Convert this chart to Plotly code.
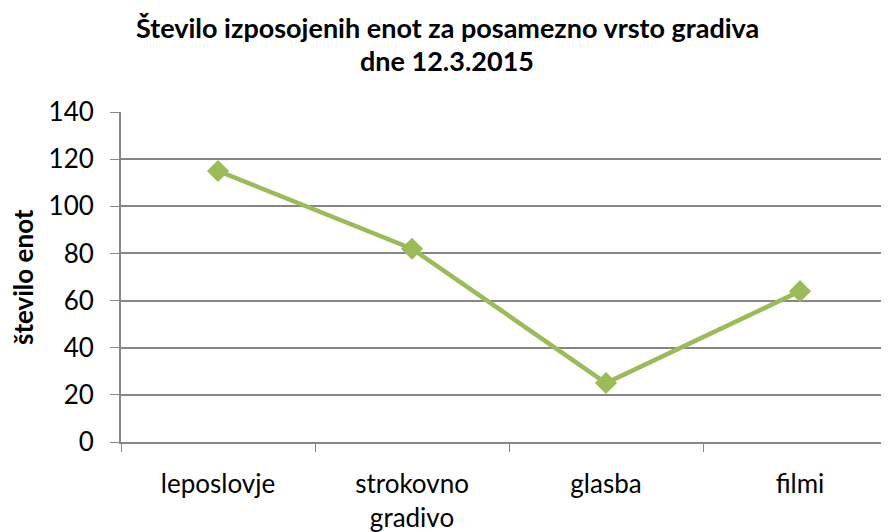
import plotly.graph_objects as go

categories = ["leposlovje", "strokovno<br>gradivo", "glasba", "filmi"]
values = [115, 82, 25, 64]
y_ticks = [0, 20, 40, 60, 80, 100, 120, 140]

title_line1 = "Število izposojenih enot za posamezno vrsto gradiva"
title_line2 = "dne 12.3.2015"
y_title = "število enot"

FONT = "Lato"
GREEN = "#9BBB59"
GRAY = "#868686"

# page body has an 8px offset; compensate
OFF = 8
L, T = 121 - OFF, 112 - OFF
W, H = 889, 532
B = H - (442 - OFF)
R = 0
pw, ph = W - L - R, H - T - B


def px_x(p):
    return (p - OFF - L) / pw


def px_y(p):
    return 1 - (p - OFF - T) / ph


fig = go.Figure()
fig.add_trace(go.Scatter(
    x=categories, y=values, mode="lines+markers",
    line=dict(color=GREEN, width=4.5),
    marker=dict(symbol="diamond", size=17, color=GREEN),
    showlegend=False, cliponaxis=False,
))

fig.update_layout(
    width=W, height=H,
    margin=dict(l=L, r=R, t=T, b=B, autoexpand=False),
    paper_bgcolor="white", plot_bgcolor="white",
    font=dict(family=FONT, size=20, color="black"),
)
for txt, yc in ((title_line1, 27), (title_line2, 60)):
    fig.add_annotation(
        text="<b>" + txt + "</b>", xref="paper", yref="paper",
        x=px_x(447), y=px_y(yc), xanchor="center", yanchor="middle",
        showarrow=False, font=dict(family=FONT, size=27, color="black"),
    )
fig.add_annotation(
    text="<b>" + y_title + "</b>", xref="paper", yref="paper",
    x=px_x(23), y=0.5, xanchor="center", yanchor="middle", textangle=-90,
    showarrow=False, font=dict(family=FONT, size=26, color="black"),
)
fig.update_xaxes(
    type="category", tickson="boundaries", ticks="outside", ticklen=8,
    tickcolor=GRAY, showline=True, linecolor=GRAY, linewidth=2,
    showgrid=False, range=[-0.5, 3.5], ticklabelstandoff=18,
    tickfont=dict(family=FONT, size=26), automargin=False,
)
fig.update_yaxes(
    range=[0, 140], tickvals=y_ticks, ticks="outside", ticklen=9,
    tickcolor=GRAY, showline=True, linecolor=GRAY, linewidth=2,
    showgrid=True, gridcolor=GRAY, gridwidth=1.5, zeroline=False,
    tickfont=dict(family=FONT, size=26), automargin=False, ticklabelstandoff=11,
)

fig.write_html("out.html")
